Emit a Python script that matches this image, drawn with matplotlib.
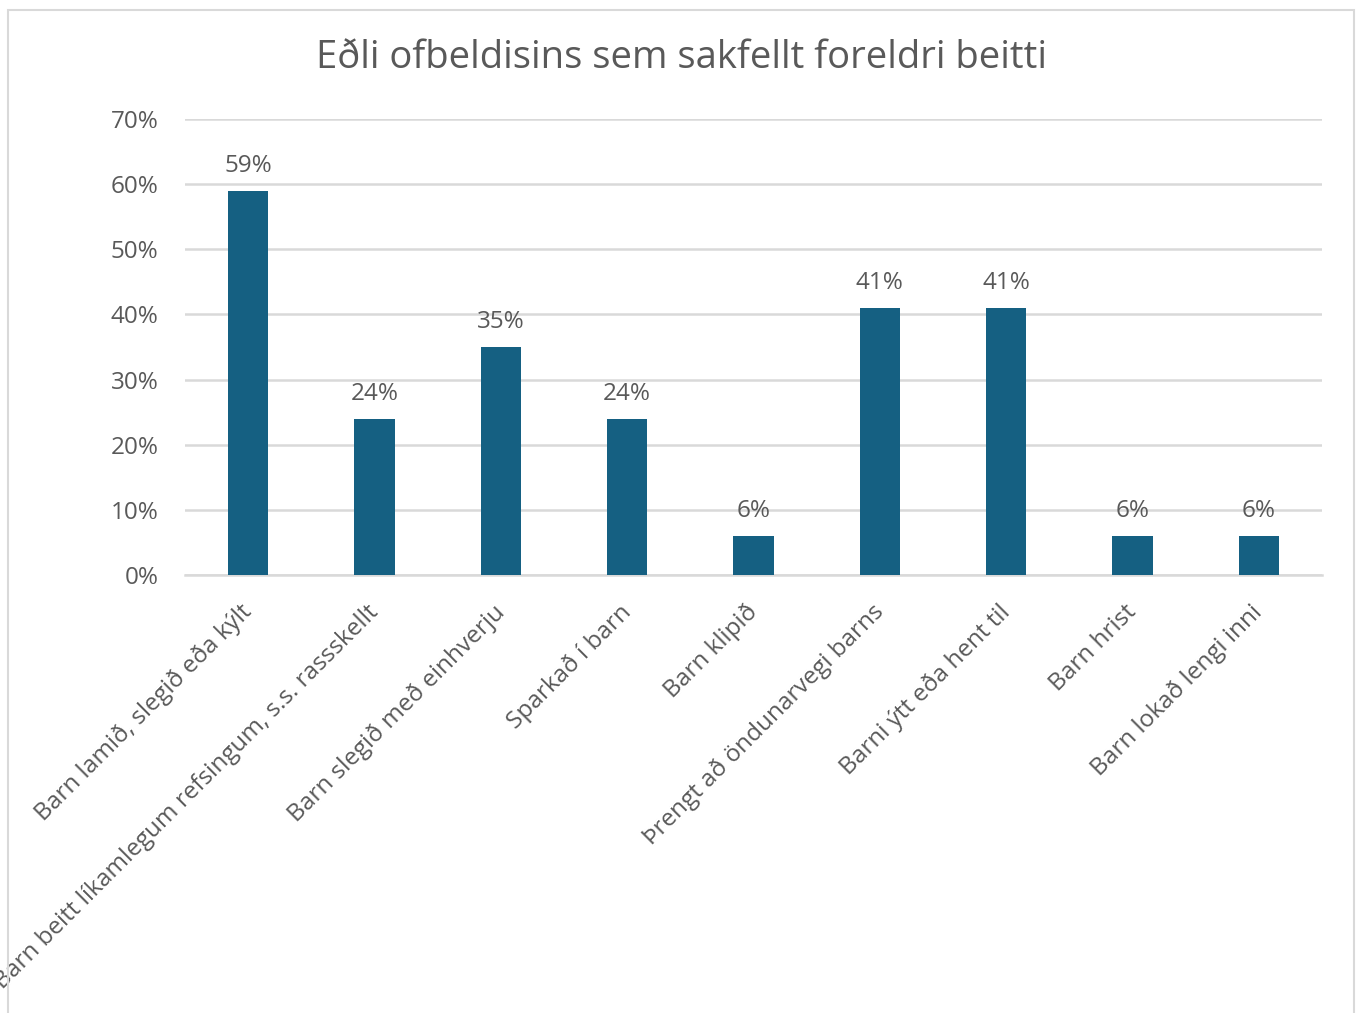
import matplotlib.pyplot as plt
from matplotlib.patches import Rectangle
from matplotlib.ticker import PercentFormatter
from matplotlib.transforms import ScaledTranslation

plt.rcParams['font.family'] = ['Open Sans', 'DejaVu Sans']

# Gögn
flokkar = ["Barn lamið, slegið eða kýlt",
           "Barn beitt líkamlegum refsingum, s.s. rassskellt",
           "Barn slegið með einhverju",
           "Sparkað í barn",
           "Barn klipið",
           "Þrengt að öndunarvegi barns",
           "Barni ýtt eða hent til",
           "Barn hrist",
           "Barn lokað lengi inni"]
hlutfall = [0.59, 0.24, 0.35, 0.24, 0.06, 0.41, 0.41, 0.06, 0.06]
titill = "Eðli ofbeldisins sem sakfellt foreldri beitti"

litur = "#156082"
grar = "#595959"
grind = "#d9d9d9"

W, H = 1358, 1013
fig = plt.figure(figsize=(W / 100, H / 100), dpi=100)
fig.patches.append(Rectangle((8 / W, -0.05), (1354 - 8) / W, 1.05 - 10 / H,
                             transform=fig.transFigure, fill=False,
                             edgecolor=grind, linewidth=1.5))

ax = fig.add_axes([185 / W, 1 - 575 / H, (1322 - 185) / W, (575 - 119) / H])
x = range(len(flokkar))
bars = ax.bar(x, hlutfall, width=0.32, color=litur, zorder=3)

for b, v in zip(bars, hlutfall):
    ax.annotate(f"{v:.0%}", (b.get_x() + b.get_width() / 2, v),
                xytext=(0, 9), textcoords="offset points",
                ha="center", va="bottom", fontsize=17.5, color=grar)

ax.set_xlim(-0.5, len(flokkar) - 0.5)
ax.set_ylim(0, 0.7)
ax.set_yticks([0, 0.1, 0.2, 0.3, 0.4, 0.5, 0.6, 0.7])
ax.yaxis.set_major_formatter(PercentFormatter(1.0, decimals=0))
ax.grid(axis="y", color=grind, linewidth=1.8, zorder=0)
ax.set_xticks(list(x))
ax.set_xticklabels(flokkar, rotation=45, ha="right", rotation_mode="anchor")
ax.tick_params(axis="both", length=0, labelsize=17.5, labelcolor=grar)
ax.tick_params(axis="y", pad=19)
ax.tick_params(axis="x", pad=18)
flytja = ScaledTranslation(-6 / 72, 0, fig.dpi_scale_trans)
for lbl in ax.get_xticklabels():
    lbl.set_transform(lbl.get_transform() + flytja)
for s in ["top", "right", "left"]:
    ax.spines[s].set_visible(False)
ax.spines["bottom"].set_color(grind)
ax.spines["bottom"].set_linewidth(1.8)

fig.text(681 / W, 1 - 58 / H, titill, ha="center", va="center",
         fontsize=27.5, color=grar)

fig.savefig("out.png", dpi=100)
